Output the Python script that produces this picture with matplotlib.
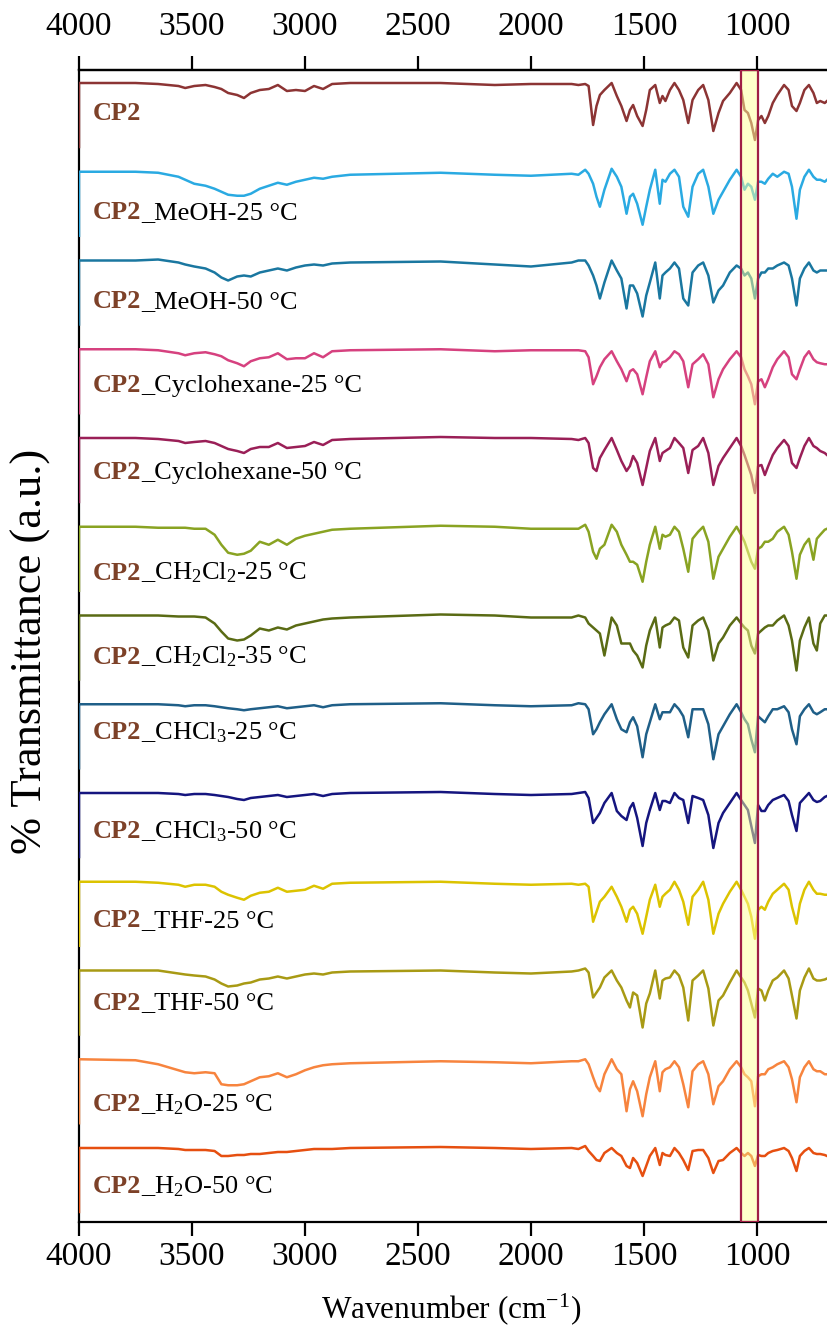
import matplotlib.pyplot as plt
import numpy as np

plt.rcParams['font.family'] = ['Liberation Serif', 'DejaVu Serif']
plt.rcParams['mathtext.fontset'] = 'custom'
plt.rcParams['mathtext.rm'] = 'Liberation Serif'
plt.rcParams['mathtext.it'] = 'Liberation Serif:italic'
plt.rcParams['mathtext.bf'] = 'Liberation Serif:bold'

# wavenumber grid (cm-1); the first point is the start-of-scan drop at 4000
wavenumber = [4000, 4000, 3750, 3650, 3560, 3530, 3490, 3440, 3400, 3370, 3340, 3300, 3270, 3240,
              3200, 3160, 3120, 3080, 3040, 3000, 2960, 2920, 2880, 2800, 2400, 2160, 2000, 1820,
              1790, 1760, 1745, 1725, 1710, 1695, 1675, 1643, 1620, 1600, 1577, 1562, 1548, 1530,
              1506, 1490, 1474, 1450, 1430, 1418, 1405, 1385, 1365, 1345, 1326, 1304, 1285, 1260,
              1238, 1215, 1193, 1170, 1150, 1120, 1090, 1070, 1055, 1040, 1025, 1009, 995, 980,
              965, 950, 930, 910, 880, 860, 845, 825, 810, 790, 770, 750, 735, 720, 700, 690]

# band depths below each baseline (a.u.)
cp2 = [64, 0, 0, 1, 3, 5, 3, 2, 4, 6, 10, 12, 15, 10, 7, 6, 2, 8, 7, 8, 3, 6, 1, 0, 0, 2, 1, 1,
       2, 1, 3, 42, 23, 12, 7, 0, 13, 23, 38, 27, 22, 33, 43, 27, 7, 2, 20, 13, 18, 7, 0, 7, 17, 40,
       17, 7, 2, 17, 48, 30, 18, 10, 0, 7, 27, 30, 40, 57, 37, 33, 40, 33, 20, 12, 2, 7, 23, 28,
       20, 7, 2, 10, 20, 18, 20, 18]
meoh_25 = [64, 0, 0, 1, 5, 8, 12, 14, 17, 20, 23, 24, 24, 22, 17, 14, 11, 13, 10, 8, 6, 7, 5, 3, 1, 3, 4, 2,
           3, -2, 2, 12, 25, 35, 18, -3, 5, 15, 42, 25, 22, 32, 53, 35, 18, -2, 32, 8, 10, 2, -2, 5, 35, 45,
           15, 2, -2, 15, 42, 28, 20, 8, -2, 5, 18, 12, 15, 28, 10, 10, 12, 7, 2, 5, 0, 2, 15, 47,
           18, 5, -2, 5, 8, 8, 10, 8]
meoh_50 = [64, 0, 0, -1, 2, 4, 6, 8, 12, 17, 20, 16, 15, 16, 12, 10, 8, 10, 7, 5, 4, 5, 3, 2, 1, 4, 6, 2,
           0, 0, 5, 15, 25, 38, 22, 0, 10, 18, 48, 25, 25, 33, 56, 35, 22, 2, 38, 15, 12, 8, 2, 8, 38, 45,
           12, 5, 2, 15, 42, 30, 25, 12, 5, 8, 15, 12, 18, 38, 18, 12, 12, 8, 8, 5, 2, 5, 18, 45,
           18, 8, 2, 10, 12, 10, 10, 10]
cyc_25 = [64, 0, 0, 1, 4, 6, 4, 3, 5, 7, 11, 14, 17, 12, 9, 8, 4, 10, 9, 9, 4, 8, 2, 1, 0, 2, 1, 1,
          1, 2, 8, 35, 27, 18, 10, 2, 12, 20, 32, 22, 20, 25, 45, 28, 12, 2, 18, 13, 12, 8, 2, 5, 12, 38,
          15, 10, 5, 15, 48, 30, 20, 10, 2, 8, 20, 27, 35, 55, 32, 30, 38, 30, 18, 10, 2, 8, 25, 30,
          20, 8, 2, 10, 13, 14, 15, 15]
cyc_50 = [64, 0, 0, 1, 3, 5, 4, 3, 5, 8, 11, 13, 15, 11, 9, 9, 5, 10, 9, 8, 4, 7, 2, 1, -1, 0, 0, 1,
          2, 0, 5, 30, 33, 20, 12, 0, 12, 23, 33, 28, 18, 25, 47, 30, 13, 0, 23, 15, 13, 10, 0, 5, 10, 35,
          12, 8, 0, 15, 47, 28, 20, 10, 0, 8, 17, 27, 37, 55, 28, 27, 37, 28, 17, 10, 2, 8, 25, 30,
          20, 8, 0, 8, 10, 13, 15, 17]
ch2cl2_25 = [64, 0, 0, 1, 1, 1, 2, 2, 8, 18, 26, 28, 27, 24, 15, 18, 13, 18, 12, 9, 7, 5, 3, 2, -1, 0, 2, 2,
             2, -2, 5, 25, 32, 22, 18, -2, 5, 18, 28, 35, 35, 38, 55, 35, 18, 0, 22, 8, 10, 8, 0, 5, 22, 45,
             12, 5, 0, 15, 52, 30, 22, 10, 0, 8, 15, 25, 35, 42, 22, 20, 15, 15, 12, 5, 0, 8, 25, 52,
             28, 18, 12, 33, 12, 8, 3, 2]
ch2cl2_35 = [64, 0, 0, 0, 1, 1, 1, 2, 8, 16, 23, 25, 24, 20, 13, 15, 12, 14, 10, 8, 6, 4, 3, 2, -1, 0, 2, 2,
             0, 2, 8, 12, 15, 18, 40, 2, 10, 28, 28, 28, 35, 40, 52, 30, 15, 2, 32, 12, 10, 8, 2, 5, 32, 42,
             10, 5, 2, 15, 45, 28, 22, 10, 2, 8, 12, 15, 30, 38, 18, 15, 12, 10, 10, 5, 0, 10, 25, 55,
             25, 12, 2, 28, 35, 8, 0, 0]
chcl3_25 = [64, 0, 0, 0, 1, 2, 1, 1, 2, 3, 4, 5, 6, 5, 4, 3, 2, 4, 3, 2, 1, 3, 1, 0, -1, 1, 2, 1,
            -1, 0, 5, 30, 25, 18, 10, 0, 15, 25, 28, 18, 13, 22, 53, 30, 18, 0, 15, 8, 8, 8, 0, 5, 12, 33,
            5, 5, 5, 20, 55, 30, 22, 10, 0, 8, 15, 20, 35, 48, 12, 15, 18, 12, 5, 5, 2, 8, 25, 40,
            12, 5, 0, 8, 10, 8, 5, 5]
chcl3_50 = [64, 0, 0, 0, 1, 2, 1, 1, 2, 3, 4, 6, 7, 5, 4, 3, 2, 4, 3, 2, 1, 3, 1, 0, -1, 1, 2, 1,
            0, -1, 5, 30, 25, 20, 10, 0, 18, 23, 27, 15, 10, 25, 53, 30, 17, 0, 17, 8, 8, 10, 0, 5, 7, 30,
            3, 5, 7, 22, 55, 30, 20, 10, 0, 7, 12, 17, 33, 50, 12, 18, 18, 12, 7, 5, 2, 8, 22, 38,
            10, 5, 0, 7, 9, 8, 4, 3]
thf_25 = [64, 0, 0, 1, 3, 5, 3, 3, 5, 10, 13, 16, 18, 14, 11, 10, 6, 10, 9, 8, 4, 7, 2, 1, 0, 2, 3, 2,
          3, 2, 5, 40, 30, 20, 15, 5, 15, 25, 40, 28, 25, 32, 52, 35, 18, 3, 25, 15, 12, 8, 0, 8, 20, 43,
          15, 8, 0, 18, 52, 32, 22, 10, 0, 8, 15, 22, 35, 57, 28, 25, 28, 20, 12, 8, 2, 8, 25, 42,
          22, 8, 0, 8, 12, 12, 13, 13]
thf_50 = [64, 0, 0, 0, 3, 4, 5, 6, 9, 13, 16, 15, 13, 12, 9, 8, 6, 8, 6, 4, 3, 4, 2, 1, 0, 2, 3, 1,
          0, -2, 2, 27, 22, 17, 7, 0, 10, 17, 30, 37, 22, 25, 57, 33, 23, 0, 28, 10, 8, 7, 0, 5, 17, 50,
          10, 5, 0, 18, 55, 30, 25, 12, 0, 7, 12, 20, 33, 47, 18, 20, 30, 20, 10, 7, 0, 8, 25, 48,
          20, 7, -2, 8, 10, 10, 9, 8]
h2o_25 = [64, 0, 1, 5, 11, 13, 14, 13, 14, 25, 26, 26, 25, 22, 18, 17, 14, 18, 15, 11, 8, 6, 5, 4, 2, 3, 4, 2,
          2, 0, 5, 18, 27, 32, 15, 0, 10, 15, 52, 30, 22, 32, 57, 35, 18, 2, 32, 13, 10, 8, 2, 8, 25, 48,
          12, 5, 2, 15, 45, 27, 22, 10, 2, 8, 15, 18, 22, 47, 17, 15, 15, 10, 8, 5, 2, 8, 20, 43,
          18, 8, 2, 10, 12, 12, 15, 15]
h2o_50 = [64, 0, 0, 0, 1, 2, 2, 2, 3, 8, 8, 7, 7, 6, 6, 5, 4, 4, 3, 2, 1, 1, 1, 0, -1, 0, 1, 0,
          1, -2, 3, 8, 12, 13, 5, 0, 5, 8, 18, 20, 10, 15, 28, 18, 8, 0, 17, 5, 7, 8, 0, 5, 12, 22,
          3, 2, 2, 10, 25, 13, 12, 5, 0, 5, 8, 5, 8, 18, 7, 8, 8, 5, 3, 2, 0, 3, 10, 23,
          8, 3, 0, 5, 6, 6, 7, 8]

spectra = [cp2, meoh_25, meoh_50, cyc_25, cyc_50, ch2cl2_25, ch2cl2_35,
           chcl3_25, chcl3_50, thf_25, thf_50, h2o_25, h2o_50]
conditions = ['', '_MeOH-25 °C', '_MeOH-50 °C', '_Cyclohexane-25 °C', '_Cyclohexane-50 °C',
              '_CH$_2$Cl$_2$-25 °C', '_CH$_2$Cl$_2$-35 °C', '_CHCl$_3$-25 °C', '_CHCl$_3$-50 °C',
              '_THF-25 °C', '_THF-50 °C', '_H$_2$O-25 °C', '_H$_2$O-50 °C']
colors = ['#8c3434', '#2aaae2', '#1a77a0', '#d6417f', '#9a1f57', '#89a322', '#5a6b14',
          '#1f5f88', '#15157f', '#dcc300', '#a89a14', '#f7843e', '#e64f10']
tick_values = [4000, 3500, 3000, 2500, 2000, 1500, 1000]
band_window = (1070, 996)

step = 88.75
label_gap = [37, 47, 48, 43, 41, 53, 48, 35, 45, 45, 39, 52, 45]

fig = plt.figure(figsize=(8.27, 13.34), dpi=100)
ax = fig.add_axes([79 / 827, 1 - 1222 / 1334, 748 / 827, 1152 / 1334])

wn = np.array(wavenumber)
for i, (depth, col) in enumerate(zip(spectra, colors)):
    ax.plot(wn, 100 - np.array(depth) - step * i, color=col, lw=1.8,
            solid_joinstyle='round', zorder=3)

# highlighted band
ax.axvspan(*band_window, facecolor='#ffff99', alpha=0.5, edgecolor='none', zorder=4)
ax.axvspan(*band_window, facecolor='none', edgecolor='#a01e46', lw=1.6, zorder=5)

ax.set_xlim(4000, 690)
ax.set_ylim(-1039, 113)
ax.set_yticks([])
ax.set_xticks(tick_values)
ax.tick_params(axis='x', direction='out', length=10, width=1.6, labelsize=24, pad=4, top=False)
for side in ['left', 'top', 'bottom']:
    ax.spines[side].set_linewidth(1.6)
ax.spines['right'].set_visible(False)

top = ax.secondary_xaxis('top')
top.set_xticks(tick_values)
top.tick_params(axis='x', direction='out', length=10, width=1.6, labelsize=24, pad=10)
top.spines['top'].set_linewidth(1.6)

# sample labels: bold "CP2" followed by the solvent/temperature
fig.canvas.draw()
renderer = fig.canvas.get_renderer()
heads = []
for i in range(len(spectra)):
    y = 100 - step * i - label_gap[i]
    t = ax.text(3938, y, 'CP2', color='#7d4128', fontsize=19, fontweight='bold',
                va='baseline', ha='left', zorder=6)
    heads.append((t, y))
fig.canvas.draw()
for (t, y), cond in zip(heads, conditions):
    if not cond:
        continue
    bb = t.get_window_extent(renderer)
    x_end = ax.transData.inverted().transform((bb.x1, bb.y0))[0]
    ax.text(x_end, y, cond, color='black', fontsize=19, va='baseline', ha='left', zorder=6)

fig.text(451 / 827, 1 - 1309 / 1334, 'Wavenumber (cm$^{-1}$)', fontsize=22.5,
         ha='center', va='center')
fig.text(31 / 827, 1 - 651 / 1334, '% Transmittance (a.u.)', fontsize=32,
         ha='center', va='center', rotation=90)

fig.savefig('out.png', dpi=100)
